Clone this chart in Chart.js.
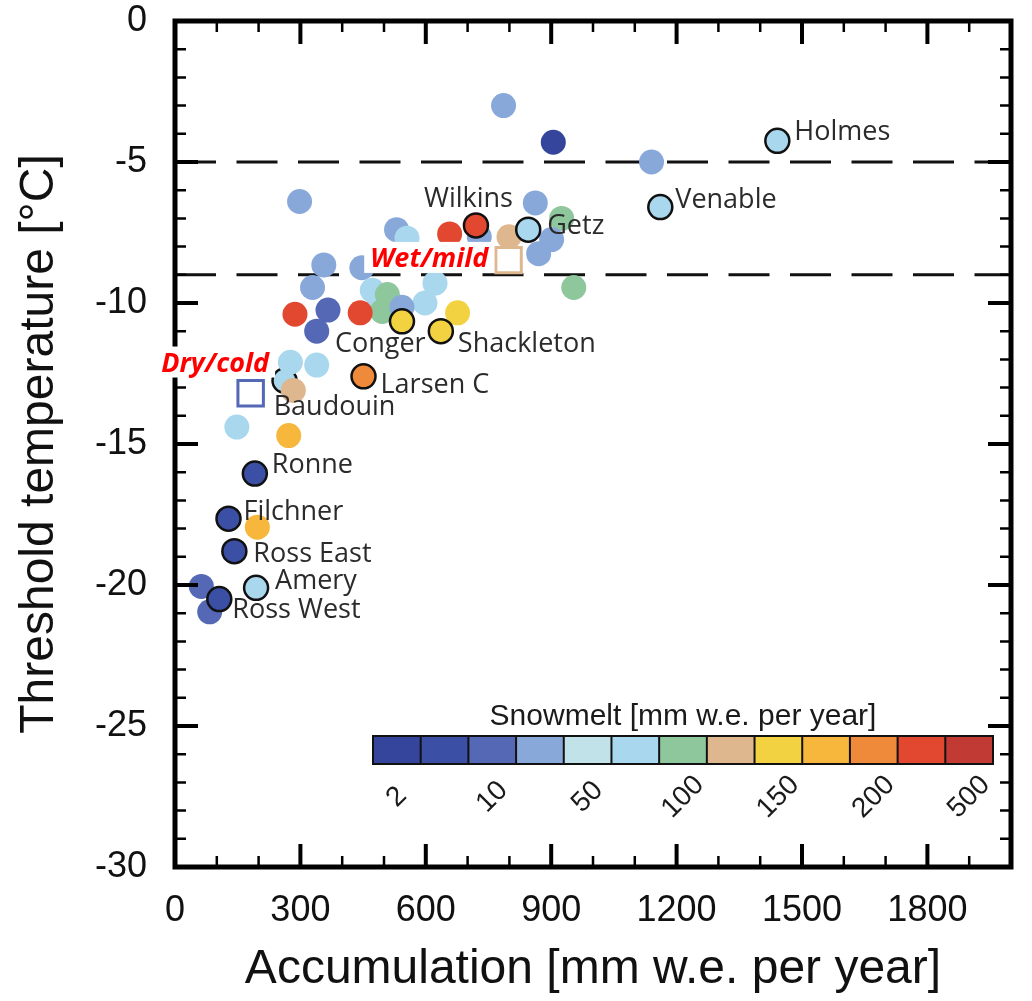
<!DOCTYPE html>
<html>
<head>
<meta charset="utf-8">
<script src="https://cdn.jsdelivr.net/npm/chart.js@4.4.1/dist/chart.umd.min.js"></script>
<style>
  html, body { margin: 0; padding: 0; background: #fff; }
</style>
</head>
<body>
<canvas id="chart" width="1032" height="1001"></canvas>
<script>
// Snowmelt colour classes (colour bar, low -> high)
const meltColors = ['#35459c', '#3b50a5', '#5468b5', '#89a8da', '#c0e2e8', '#a8d7ee', '#8fc79c',
                    '#dfb78f', '#f2d240', '#f6b73c', '#ee8a3a', '#e2472f', '#c13a33'];
const meltTickLabels = ['2', '10', '50', '100', '150', '200', '500'];

// Ice shelves: accumulation [mm w.e./yr], threshold temperature [degC], snowmelt class
const accumulation = [786, 905, 1140, 1441, 1161, 298, 862, 925, 530, 555,
                      657, 728, 720, 799, 901, 870, 845, 954, 356, 447,
                      329, 472, 490, 508, 496, 622, 598, 287, 366, 339,
                      443, 543, 676, 543, 636, 276, 339, 262, 283, 451,
                      148, 272, 191, 128, 197, 142, 194, 63, 83, 106];
const threshold = [-3.0, -4.3, -5.0, -4.25, -6.6, -6.4, -6.45, -7.0, -7.4, -7.7,
                   -7.55, -7.65, -7.25, -7.65, -7.75, -8.25, -7.4, -9.45, -8.65, -8.75,
                   -9.45, -9.55, -9.9, -9.7, -10.3, -9.3, -10.0, -10.4, -10.25, -11.0,
                   -10.35, -10.15, -10.35, -10.65, -11.0, -12.1, -12.2, -12.75, -13.1, -12.6,
                   -14.4, -14.7, -16.05, -17.65, -17.95, -18.8, -20.1, -20.05, -20.95, -20.5];
const meltClass = [3, 0, 3, 5, 5, 3, 3, 6, 3, 5,
                   11, 3, 11, 7, 3, 3, 5, 6, 3, 3,
                   3, 5, 5, 6, 6, 5, 5, 11, 2, 2,
                   11, 3, 8, 8, 8, 5, 5, 5, 7, 10,
                   5, 9, 1, 1, 9, 1, 5, 2, 2, 1];
const shelfName = ['', '', '', 'Holmes', 'Venable', '', '', '', '', '',
                   '', '', 'Wilkins', '', '', '', 'Getz', '', '', '',
                   '', '', '', '', '', '', '', '', '', '',
                   '', '', '', 'Conger', 'Shackleton', '', '', '', '', 'Larsen C',
                   '', '', 'Ronne', 'Filchner', '', 'Ross East', 'Amery', '', '', 'Ross West'];
const outlined = [0, 0, 0, 1, 1, 0, 0, 0, 0, 0,
                  0, 0, 1, 0, 0, 0, 1, 0, 0, 0,
                  0, 0, 0, 0, 0, 0, 0, 0, 0, 0,
                  0, 0, 0, 1, 1, 0, 0, 1, 0, 1,
                  0, 0, 1, 1, 0, 1, 1, 0, 0, 1];

// Open squares
const squareAcc = [181, 798];
const squareTemp = [-13.2, -8.48];
const squareClass = [2, 7];
const squareName = ['Baudouin', ''];

// Threshold lines and axis ticks
const thresholdLines = [-5, -9];
const xTicks = [0, 300, 600, 900, 1200, 1500, 1800];
const yTicks = [0, -5, -10, -15, -20, -25, -30];

const FONT = '"Liberation Sans", Arial, Helvetica, sans-serif';
const LABEL_FONT = '"Open Sans", "Noto Sans", sans-serif';

// text left / baseline offset from marker centre (px)
const LABEL_OFFSETS = {
    'Holmes': [17, -1], 'Venable': [15, 1], 'Getz': [19, 4], 'Wilkins': [-52, -18],
    'Conger': [-67, 31], 'Shackleton': [17, 21], 'Larsen C': [17, 17], 'Baudouin': [23, 22],
    'Ronne': [17, -1], 'Filchner': [15, 1], 'Ross East': [19, 11], 'Amery': [19, 1],
    'Ross West': [13, 19]
};
// regime labels: text, x, y (baseline, data units)
const REGIME_LABELS = [
    { text: 'Wet/mild', x: 467, y: -8.72 },
    { text: 'Dry/cold', x: -33, y: -12.43 }
];

const idx = accumulation.map((_, i) => i);
const plainIdx = idx.filter(i => !outlined[i]);
const ringIdx = idx.filter(i => outlined[i] && shelfName[i]);
// outlined but unnamed shelf sits underneath its neighbours
const hiddenRingIdx = idx.filter(i => outlined[i] && !shelfName[i]);

function toPoints(list) {
    return list.map(i => ({ x: accumulation[i], y: threshold[i] }));
}

// frame with inward ticks on all four sides
const framePlugin = {
    id: 'frame',
    afterDatasetsDraw(chart) {
        const { ctx, chartArea: a, scales: { x, y } } = chart;
        ctx.save();
        ctx.strokeStyle = '#000';
        ctx.lineCap = 'butt';
        for (let v = 100; v < 2000; v += 100) {
            const px = x.getPixelForValue(v);
            const major = v % 300 === 0;
            const len = major ? 23 : 11;
            ctx.lineWidth = major ? 4 : 2.5;
            ctx.beginPath();
            ctx.moveTo(px, a.bottom); ctx.lineTo(px, a.bottom - len);
            ctx.moveTo(px, a.top); ctx.lineTo(px, a.top + len);
            ctx.stroke();
        }
        for (let v = -29; v < 0; v += 1) {
            const py = y.getPixelForValue(v);
            const major = v % 5 === 0;
            const len = major ? 23 : 11;
            ctx.lineWidth = major ? 4 : 2.5;
            ctx.beginPath();
            ctx.moveTo(a.left, py); ctx.lineTo(a.left + len, py);
            ctx.moveTo(a.right, py); ctx.lineTo(a.right - len, py);
            ctx.stroke();
        }
        ctx.lineWidth = 5;
        ctx.strokeRect(a.left, a.top, a.right - a.left, a.bottom - a.top);
        ctx.restore();
    }
};

const labelPlugin = {
    id: 'shelfLabels',
    afterDatasetsDraw(chart) {
        const { ctx, scales: { x, y } } = chart;
        ctx.save();
        ctx.font = '27px ' + LABEL_FONT;
        ctx.fillStyle = '#2b2b2b';
        ctx.textBaseline = 'alphabetic';
        const ringMeta = chart.getDatasetMeta(0);
        ringIdx.forEach((i, j) => {
            const off = LABEL_OFFSETS[shelfName[i]];
            const el = ringMeta.data[j];
            ctx.fillText(shelfName[i], el.x + off[0], el.y + off[1]);
        });
        const sqMeta = chart.getDatasetMeta(2);
        squareName.forEach((name, j) => {
            if (!name) return;
            const off = LABEL_OFFSETS[name];
            const el = sqMeta.data[j];
            ctx.fillText(name, el.x + off[0], el.y + off[1]);
        });

        // regime labels on white boxes
        ctx.font = 'italic bold 27px ' + LABEL_FONT;
        REGIME_LABELS.forEach(r => {
            const px = x.getPixelForValue(r.x);
            const py = y.getPixelForValue(r.y);
            const w = ctx.measureText(r.text).width;
            ctx.fillStyle = '#fff';
            ctx.fillRect(px - 6, py - 25, w + 12, 31);
            ctx.fillStyle = '#ff0000';
            ctx.fillText(r.text, px, py);
        });
        ctx.restore();
    }
};

const colorbarPlugin = {
    id: 'colorbar',
    afterDatasetsDraw(chart) {
        const ctx = chart.ctx;
        const left = 373, right = 993, top = 736, bottom = 764;
        const segW = (right - left) / meltColors.length;
        ctx.save();
        meltColors.forEach((c, k) => {
            ctx.fillStyle = c;
            ctx.fillRect(left + k * segW, top, segW, bottom - top);
        });
        ctx.strokeStyle = '#111';
        ctx.lineWidth = 2;
        for (let k = 1; k < meltColors.length; k++) {
            ctx.beginPath();
            ctx.moveTo(left + k * segW, top);
            ctx.lineTo(left + k * segW, bottom);
            ctx.stroke();
        }
        ctx.strokeRect(left, top, right - left, bottom - top);

        ctx.fillStyle = '#1a1a1a';
        ctx.font = '30px ' + FONT;
        ctx.textAlign = 'center';
        ctx.textBaseline = 'middle';
        ctx.fillText('Snowmelt [mm w.e. per year]', (left + right) / 2, 717);

        ctx.font = '28px ' + FONT;
        meltTickLabels.forEach((t, k) => {
            const cx = left + (2 * k + 0.5) * segW;
            ctx.save();
            ctx.translate(cx, 797);
            ctx.rotate(-Math.PI / 4);
            ctx.fillText(t, 0, 0);
            ctx.restore();
        });
        ctx.restore();
    }
};

const lineDatasets = thresholdLines.map(t => ({
    type: 'line',
    label: 'T = ' + t,
    data: [{ x: 0, y: t }, { x: 2000, y: t }],
    borderColor: '#111',
    borderWidth: 3,
    borderDash: [41, 20.5],
    pointRadius: 0,
    order: 4
}));

new Chart(document.getElementById('chart'), {
    type: 'scatter',
    data: {
        datasets: [
            {
                label: 'Ice shelves (named)',
                data: toPoints(ringIdx),
                backgroundColor: ringIdx.map(i => meltColors[meltClass[i]]),
                borderColor: '#111',
                borderWidth: 2.5,
                pointRadius: 12,
                order: 1
            },
            {
                label: 'Ice shelves',
                data: toPoints(plainIdx),
                backgroundColor: plainIdx.map(i => meltColors[meltClass[i]]),
                borderWidth: 0,
                pointRadius: 12.5,
                order: 2
            },
            {
                label: 'Squares',
                data: squareAcc.map((a, k) => ({ x: a, y: squareTemp[k] })),
                pointStyle: 'rect',
                pointRadius: 18,
                backgroundColor: '#fff',
                borderColor: squareClass.map(c => meltColors[c]),
                borderWidth: 3,
                order: 1
            },
            {
                label: 'Ice shelves (outlined, underneath)',
                data: toPoints(hiddenRingIdx),
                backgroundColor: hiddenRingIdx.map(i => meltColors[meltClass[i]]),
                borderColor: '#111',
                borderWidth: 2.5,
                pointRadius: 12,
                order: 3
            },
            ...lineDatasets
        ]
    },
    options: {
        responsive: false,
        animation: false,
        devicePixelRatio: 1,
        layout: { padding: { left: 0, top: 21, right: 9, bottom: 0 } },
        plugins: {
            legend: { display: false },
            tooltip: { enabled: false }
        },
        scales: {
            x: {
                type: 'linear',
                min: 0,
                max: 2000,
                afterFit: s => { s.height = 134; s.paddingLeft = 0; s.paddingRight = 0; },
                afterBuildTicks: s => { s.ticks = xTicks.map(v => ({ value: v })); },
                grid: { display: false, drawTicks: false },
                border: { display: false },
                ticks: {
                    autoSkip: false,
                    maxRotation: 0,
                    padding: 22,
                    color: '#111',
                    font: { family: FONT, size: 36 },
                    callback: v => String(v)
                },
                title: {
                    display: true,
                    text: 'Accumulation [mm w.e. per year]',
                    color: '#111',
                    font: { family: FONT, size: 48 },
                    padding: { top: 0, bottom: 2 }
                }
            },
            y: {
                type: 'linear',
                min: -30,
                max: 0,
                afterFit: s => { s.width = 175; s.paddingTop = 0; s.paddingBottom = 0; },
                afterBuildTicks: s => { s.ticks = yTicks.map(v => ({ value: v })); },
                grid: { display: false, drawTicks: false },
                border: { display: false },
                ticks: {
                    padding: 28,
                    color: '#111',
                    font: { family: FONT, size: 36 },
                    callback: v => String(v)
                },
                title: {
                    display: true,
                    text: 'Threshold temperature [°C]',
                    color: '#111',
                    font: { family: FONT, size: 48 },
                    padding: { top: 11, bottom: 0 }
                }
            }
        }
    },
    plugins: [framePlugin, labelPlugin, colorbarPlugin]
});
</script>
</body>
</html>
